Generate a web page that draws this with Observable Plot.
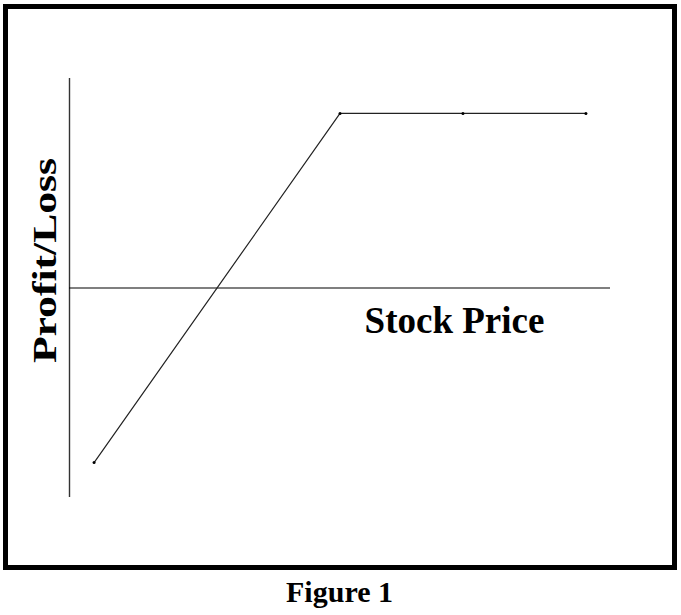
<!DOCTYPE html>
<html><head><meta charset="utf-8">
<script src="https://cdn.jsdelivr.net/npm/d3@7"></script>
<script src="https://cdn.jsdelivr.net/npm/@observablehq/plot@0.6"></script>
<style>
body{margin:0;background:#fff;width:681px;height:615px;position:relative;overflow:hidden}
#frame{position:absolute;left:3px;top:4px;width:674px;height:566px;border:5px solid #000;box-sizing:border-box}
#chart{position:absolute;left:0;top:0}
#caption{position:absolute;left:0;top:577px;width:679px;text-align:center;font:bold 30px "Liberation Serif",serif;line-height:30px;color:#000}
</style></head><body>
<div id="frame"></div>
<div id="chart"></div>
<div id="caption">Figure 1</div>
<script>
const stockPrice = [20, 40, 50, 60];
const profitLoss = [-10, 10, 10, 10];
const xLabel = "Stock Price";
const yLabel = "Profit/Loss";
const data = stockPrice.map((p, i) => ({price: p, pl: profitLoss[i]}));
const chart = Plot.plot({
  width: 681, height: 570,
  marginLeft: 69, marginRight: 71, marginTop: 78, marginBottom: 73,
  x: {domain: [18, 62], axis: null},
  y: {domain: [-12, 12], axis: null},
  style: {background: "transparent", fontFamily: "'Liberation Serif', serif", overflow: "visible"},
  marks: [
    Plot.ruleX([18], {stroke: "#333", strokeWidth: 1.4}),
    Plot.ruleY([0], {stroke: "#000", strokeWidth: 1.2}),
    Plot.line(data, {x: "price", y: "pl", stroke: "#222", strokeWidth: 1.2}),
    Plot.dot(data, {x: "price", y: "pl", r: 1.5, fill: "#000", stroke: null}),
    Plot.text([xLabel], {x: 42, y: -2.55, text: d => d, textAnchor: "start", lineAnchor: "bottom", fontSize: 37, fontWeight: "bold", fill: "#000"}),
    Plot.text([yLabel], {frameAnchor: "left", y: -4.3, dx: -14, text: d => d, rotate: -90, textAnchor: "start", lineAnchor: "bottom", fontSize: 34, fontWeight: "bold", fill: "#000"})
  ]
});
d3.select(chart).selectAll("text").filter(function() { return this.textContent === yLabel; })
  .attr("textLength", 205).attr("lengthAdjust", "spacingAndGlyphs");
document.getElementById("chart").appendChild(chart);
</script>
</body></html>
